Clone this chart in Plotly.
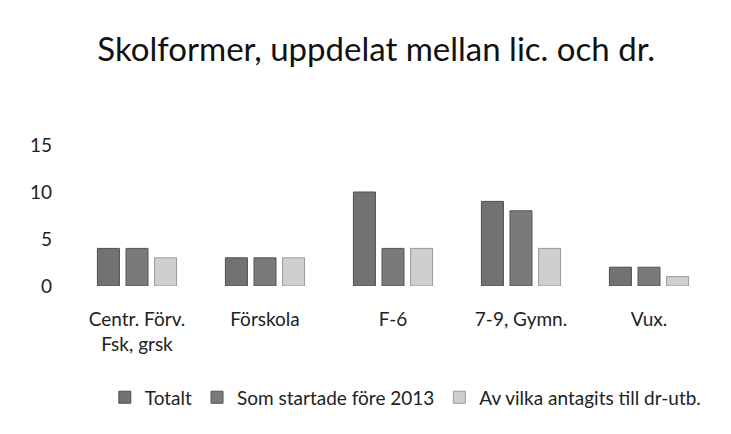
import plotly.graph_objects as go

categories = ["Centr. Förv.<br>Fsk, grsk", "Förskola", "F-6", "7-9, Gymn.", "Vux."]
series_names = ["Totalt", "Som startade före 2013", "Av vilka antagits till dr-utb."]
totalt = [4, 3, 10, 9, 2]
fore_2013 = [4, 3, 4, 8, 2]
antagits = [3, 3, 4, 4, 1]
y_ticks = [0, 5, 10, 15]

colors = ["#727272", "#7a7a7a", "#cfcfcf"]
lines = ["#4f4f4f", "#555555", "#9a9a9a"]

fig = go.Figure()
for name, vals, c, lc in zip(series_names, [totalt, fore_2013, antagits], colors, lines):
    fig.add_trace(go.Bar(x=categories, y=vals, name=name,
                         marker=dict(color=c, line=dict(color=lc, width=1))))

fig.update_layout(
    width=715, height=418,
    paper_bgcolor="white", plot_bgcolor="white",
    font=dict(family="Lato, Open Sans, sans-serif", size=19, color="#222"),
    title=dict(text="Skolformer, uppdelat mellan lic. och dr.", x=0.515, xanchor="center",
               y=0.9, yanchor="middle", font=dict(size=33, color="#111")),
    barmode="group", bargap=0.33, bargroupgap=0.23,
    margin=dict(l=65, r=10, t=137, b=131),
    showlegend=True,
    legend=dict(orientation="h", x=0.52, xanchor="center", y=-0.79, yanchor="middle",
                font=dict(size=19), itemwidth=30, traceorder="normal"),
    xaxis=dict(showline=False, ticks="", tickfont=dict(size=19), ticklabelstandoff=20),
    yaxis=dict(range=[0, 15], tickvals=y_ticks, showgrid=False, zeroline=False,
               showline=False, ticks="", ticklabelstandoff=20, tickfont=dict(size=19)),
)
fig.write_html("out.html")
